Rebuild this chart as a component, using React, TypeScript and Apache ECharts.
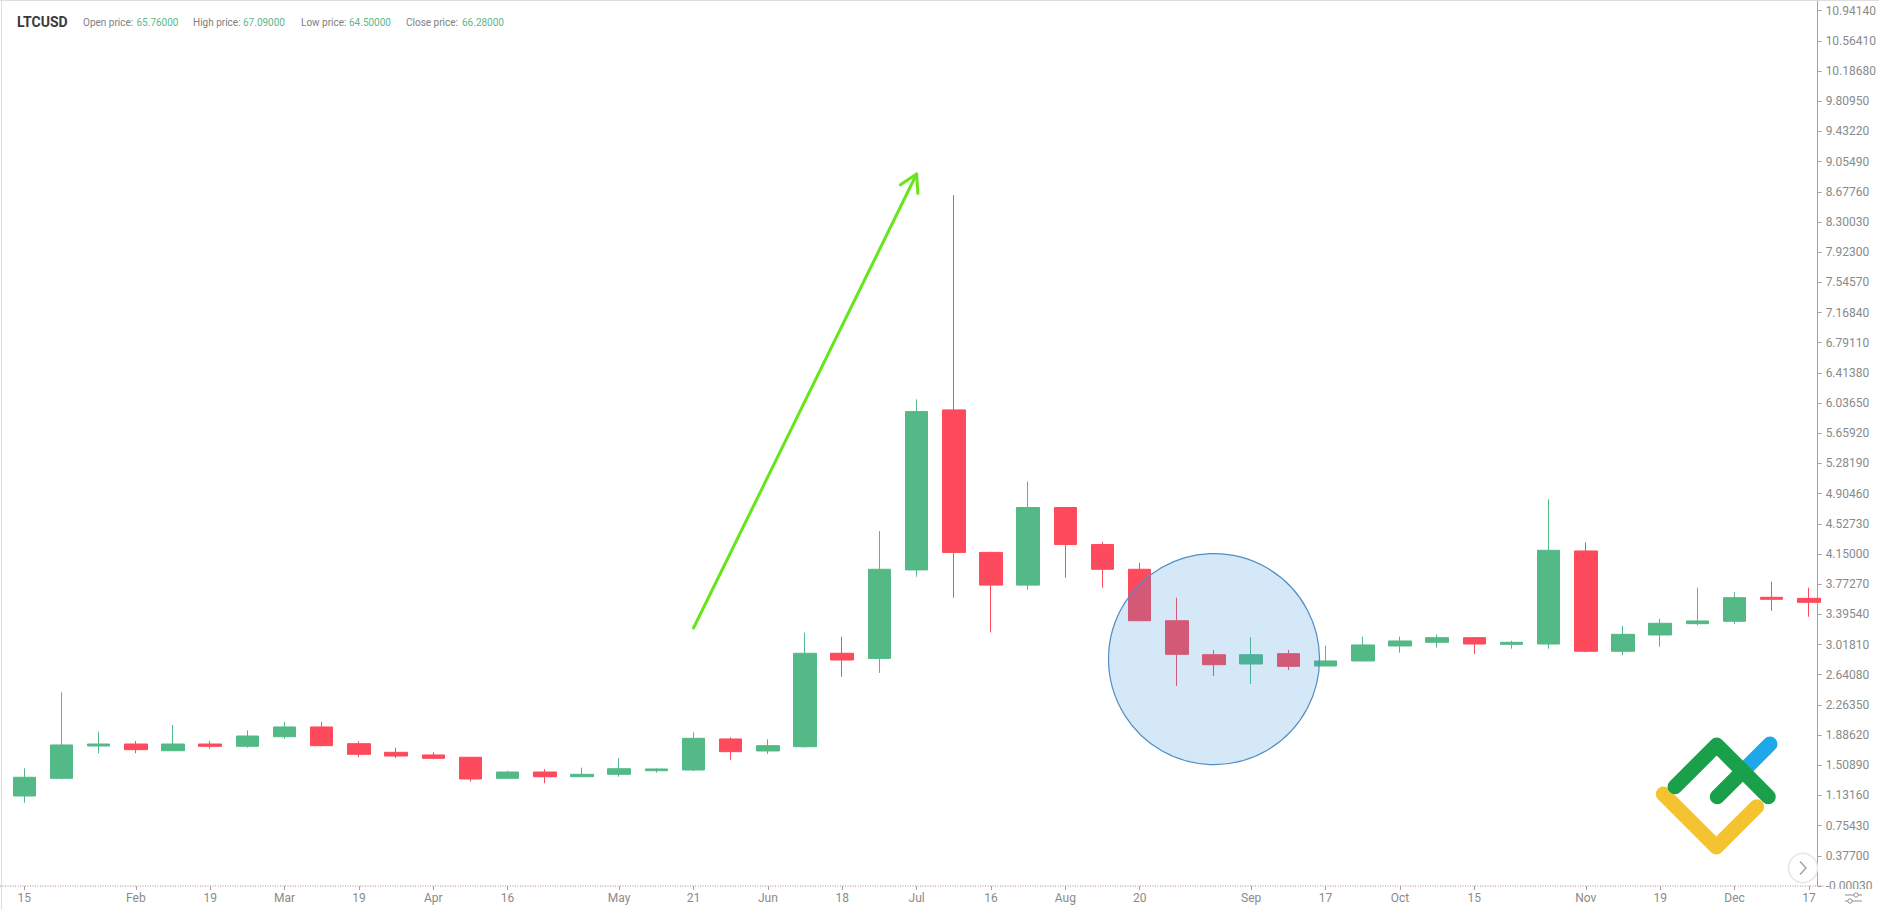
import React, { useEffect, useRef } from 'react';
import * as echarts from 'echarts';

// ---- data ----
const tickLabels = [
  '15', '', '', 'Feb', '', '19', '', 'Mar', '', '19', '', 'Apr', '', '16', '', '', 'May', '', '21', '', 'Jun', '', '18', '', 'Jul',
  '', '16', '', 'Aug', '', '20', '', '', 'Sep', '', '17', '', 'Oct', '', '15', '', '', 'Nov', '', '19', '', 'Dec', '', '17',
];
const weekIds = tickLabels.map((_, i) => `W${i + 1}`);

const openPrices = [
  1.125, 1.346, 1.75, 1.775, 1.691, 1.775, 1.746, 1.866, 1.988, 1.779, 1.671, 1.638, 1.609, 1.346, 1.425, 1.366, 1.396,
  1.441, 1.45, 1.838, 1.688, 1.741, 2.909, 2.845, 3.951, 5.951, 4.17, 3.761, 4.731, 4.268, 3.959, 3.316, 2.891, 2.775,
  2.904, 2.75, 2.813, 3.0, 3.046, 3.104, 3.021, 3.025, 4.188, 2.934, 3.138, 3.279, 3.309, 3.609, 3.596,
];
const closePrices = [
  1.359, 1.763, 1.775, 1.704, 1.775, 1.746, 1.875, 1.988, 1.754, 1.646, 1.625, 1.596, 1.338, 1.425, 1.366, 1.396, 1.466,
  1.463, 1.846, 1.679, 1.754, 2.909, 2.825, 3.959, 5.93, 4.17, 3.761, 4.731, 4.268, 3.959, 3.316, 2.896, 2.766, 2.891,
  2.746, 2.813, 3.013, 3.063, 3.104, 3.025, 3.046, 4.196, 2.934, 3.146, 3.284, 3.313, 3.604, 3.584, 3.546,
];
const lowPrices = [
  1.041, 1.334, 1.659, 1.659, 1.688, 1.716, 1.729, 1.841, 1.746, 1.609, 1.6, 1.584, 1.304, 1.338, 1.284, 1.36, 1.366,
  1.416, 1.438, 1.575, 1.65, 1.73, 2.616, 2.664, 3.866, 3.605, 3.17, 3.706, 3.854, 3.728, 3.31, 2.5, 2.625, 2.525,
  2.7, 2.745, 2.81, 2.916, 2.979, 2.9, 2.966, 2.966, 2.921, 2.884, 2.991, 3.259, 3.275, 3.441, 3.366,
];
const highPrices = [
  1.471, 2.421, 1.929, 1.813, 2.013, 1.813, 1.946, 2.05, 2.05, 1.809, 1.729, 1.671, 1.615, 1.441, 1.459, 1.479, 1.596,
  1.471, 1.921, 1.859, 1.834, 3.166, 3.116, 4.436, 6.083, 8.635, 4.18, 5.056, 4.74, 4.301, 4.041, 3.604, 2.95, 3.109,
  2.95, 3.004, 3.116, 3.116, 3.146, 3.11, 3.066, 4.834, 4.296, 3.254, 3.341, 3.729, 3.675, 3.804, 3.729,
];

// y-axis tick labels run from -0.00030 in steps of 0.37730
const yLabelStart = -0.0003;
const yLabelStep = 0.3773;
const yAxisMax = 11.0625;

const symbolName = 'LTCUSD';
const statLabels = ['Open price:', 'High price:', 'Low price:', 'Close price:'];
const statValues = ['65.76000', '67.09000', '64.50000', '66.28000'];

// annotations, anchored in data space: [week index, price]
const arrowFrom = [18, 3.225];
const arrowTo = [24, 8.9];
const circleCenter = [32, 2.836];

const UP = '#53b987';
const DOWN = '#fd4a5c';
const AXIS = '#a3a3a3';
const LABEL = '#8a8a8a';
const FONT = 'Roboto, "Liberation Sans", Arial, sans-serif';

export default function App() {
  const ref = useRef<HTMLDivElement>(null);

  useEffect(() => {
    const el = ref.current as HTMLDivElement;
    const chart = echarts.init(el, undefined, { renderer: 'svg', width: 1879, height: 910 });
    const candleData = openPrices.map((o, i) => [o, closePrices[i], lowPrices[i], highPrices[i]]);
    const showIdx = (i: number) => tickLabels[i] !== '';

    const gridLeft = 5.7;
    const bandW = 37.33;
    const gridW = bandW * weekIds.length;
    const axisX = 1825;

    chart.setOption({
      animation: false,
      backgroundColor: '#ffffff',
      textStyle: { fontFamily: FONT },
      grid: { left: gridLeft, top: 1, width: gridW, height: 885, containLabel: false },
      xAxis: {
        type: 'category',
        data: weekIds,
        boundaryGap: true,
        axisLine: { show: false },
        axisTick: {
          show: true,
          alignWithLabel: true,
          interval: (i: number) => showIdx(i),
          length: 4,
          lineStyle: { color: AXIS },
        },
        axisLabel: {
          interval: (i: number) => showIdx(i),
          formatter: (_v: string, i: number) => tickLabels[i],
          color: LABEL,
          fontSize: 12,
          fontFamily: FONT,
          margin: 6,
        },
        splitLine: { show: false },
      },
      yAxis: {
        type: 'value',
        position: 'right',
        offset: axisX - (gridLeft + gridW),
        min: 0,
        max: yAxisMax,
        interval: yLabelStep,
        scale: false,
        axisLine: { show: true, lineStyle: { color: AXIS, width: 1 } },
        axisTick: { show: true, length: 4, lineStyle: { color: AXIS } },
        axisLabel: {
          color: LABEL,
          fontSize: 12,
          fontFamily: FONT,
          margin: 8,
          showMaxLabel: false,
          formatter: (v: number) => (v + yLabelStart).toFixed(5),
        },
        splitLine: { show: false },
      },
      series: [
        {
          type: 'candlestick',
          data: candleData,
          barWidth: 23,
          clip: true,
          silent: true,
          itemStyle: {
            color: UP,
            color0: DOWN,
            borderColor: UP,
            borderColor0: DOWN,
            borderWidth: 1,
          },
          emphasis: { disabled: true },
        },
      ],
    });

    const px = (p: number[]) => chart.convertToPixel({ gridIndex: 0 }, p) as number[];
    const a0 = px(arrowFrom);
    const a1 = px(arrowTo);
    const cc = px(circleCenter);
    const baseY = px([0, 0])[1];

    const dx = a0[0] - a1[0];
    const dy = a0[1] - a1[1];
    const len = Math.hypot(dx, dy);
    const ux = dx / len;
    const uy = dy / len;
    const barb = (ang: number) => {
      const c = Math.cos(ang);
      const s = Math.sin(ang);
      return [a1[0] + 19.5 * (ux * c - uy * s), a1[1] + 19.5 * (ux * s + uy * c)];
    };
    const deg = Math.PI / 180;

    const statX = [83, 193, 301, 406];
    const valX = [136.5, 243, 349, 462];

    const graphics: any[] = [
      // frame borders
      { type: 'line', z: 50, shape: { x1: 0, y1: 0.5, x2: 1879, y2: 0.5 }, style: { stroke: '#dedede', lineWidth: 1 } },
      { type: 'line', z: 50, shape: { x1: 1.5, y1: 0, x2: 1.5, y2: 910 }, style: { stroke: '#dedede', lineWidth: 1 } },
      // dotted baseline
      {
        type: 'line',
        z: 40,
        shape: { x1: 0, y1: baseY, x2: axisX, y2: baseY },
        style: { stroke: '#b8868c', lineWidth: 1, lineDash: [1, 1.5] },
      },
      // header
      {
        type: 'text',
        z: 60,
        x: 17,
        y: 22,
        style: { text: symbolName, fill: '#3a3a3a', font: `bold 14px ${FONT}`, textVerticalAlign: 'middle' },
      },
      ...statLabels.map((t, i) => ({
        type: 'text',
        z: 60,
        x: statX[i],
        y: 22,
        style: { text: t, fill: '#808080', font: `10px ${FONT}`, textVerticalAlign: 'middle' },
      })),
      ...statValues.map((t, i) => ({
        type: 'text',
        z: 60,
        x: valX[i],
        y: 22,
        style: { text: t, fill: '#5cb88a', font: `10px ${FONT}`, textVerticalAlign: 'middle' },
      })),
      // highlight circle
      {
        type: 'circle',
        z: 30,
        shape: { cx: cc[0], cy: cc[1], r: 105.5 },
        style: { fill: 'rgba(66,150,220,0.22)', stroke: '#4f8fc4', lineWidth: 1.2 },
      },
      // green arrow
      {
        type: 'line',
        z: 30,
        shape: { x1: a0[0], y1: a0[1], x2: a1[0], y2: a1[1] },
        style: { stroke: '#66e61a', lineWidth: 3, lineCap: 'round' },
      },
      {
        type: 'polyline',
        z: 30,
        shape: { points: [barb(-30 * deg), a1, barb(30 * deg)] },
        style: { stroke: '#66e61a', lineWidth: 3, lineCap: 'round', lineJoin: 'round', fill: null },
      },
      // logo
      {
        type: 'polyline',
        z: 35,
        shape: { points: [[1742.8, 771.2], [1770, 744]] },
        style: { stroke: '#1ea7e9', lineWidth: 15, lineCap: 'round', fill: null },
      },
      {
        type: 'polyline',
        z: 36,
        shape: { points: [[1663.3, 794], [1716.3, 847], [1756.7, 806.7]] },
        style: { stroke: '#f5c330', lineWidth: 15, lineCap: 'round', lineJoin: 'round', fill: null },
      },
      {
        type: 'polyline',
        z: 37,
        shape: { points: [[1675, 786.7], [1716.7, 745], [1768.3, 796.7]] },
        style: { stroke: '#1a9f4b', lineWidth: 15, lineCap: 'round', lineJoin: 'round', fill: null },
      },
      {
        type: 'polyline',
        z: 37,
        shape: { points: [[1717.3, 796.7], [1742.8, 771.2]] },
        style: { stroke: '#1a9f4b', lineWidth: 15, lineCap: 'round', fill: null },
      },
      // scroll button
      {
        type: 'circle',
        z: 45,
        shape: { cx: 1803, cy: 868, r: 14.5 },
        style: { fill: '#ffffff', stroke: '#e6e6e6', lineWidth: 1.5 },
      },
      {
        type: 'polyline',
        z: 46,
        shape: { points: [[1800, 861.5], [1806, 868], [1800, 874.5]] },
        style: { stroke: '#a6a6a6', lineWidth: 1.5, fill: null },
      },
      // corner cover + settings icon
      {
        type: 'rect',
        z: 55,
        shape: { x: 1826, y: 889, width: 53, height: 21 },
        style: { fill: '#ffffff' },
      },
      {
        type: 'line',
        z: 56,
        shape: { x1: 1845, y1: 895, x2: 1862, y2: 895 },
        style: { stroke: '#8e8e8e', lineWidth: 1 },
      },
      {
        type: 'line',
        z: 56,
        shape: { x1: 1845, y1: 901, x2: 1862, y2: 901 },
        style: { stroke: '#8e8e8e', lineWidth: 1 },
      },
      {
        type: 'circle',
        z: 57,
        shape: { cx: 1856, cy: 895, r: 2.2 },
        style: { fill: '#ffffff', stroke: '#8e8e8e', lineWidth: 1 },
      },
      {
        type: 'circle',
        z: 57,
        shape: { cx: 1850, cy: 901, r: 2.2 },
        style: { fill: '#ffffff', stroke: '#8e8e8e', lineWidth: 1 },
      },
    ];

    chart.setOption({ graphic: graphics });

    return () => {
      chart.dispose();
    };
  }, []);

  return (
    <div
      ref={ref}
      style={{ position: 'fixed', left: 0, top: 0, width: 1879, height: 910, background: '#ffffff' }}
    />
  );
}
